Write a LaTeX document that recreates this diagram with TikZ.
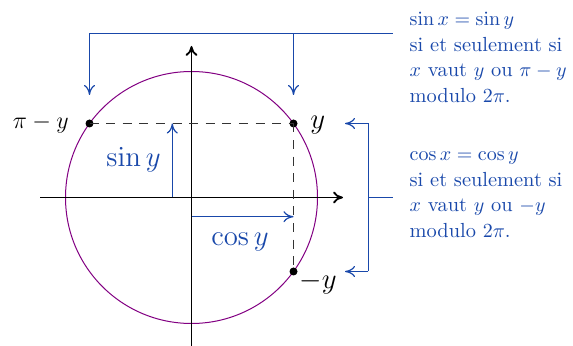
\documentclass[tikz,border=0pt]{standalone}
\usetikzlibrary{arrows.meta}
\definecolor{myblue}{RGB}{25,72,170}
\definecolor{mypurple}{RGB}{130,0,130}
\begin{document}
\begin{tikzpicture}[x=0.5pt,y=-0.5pt,
  axis/.style={line width=0.9pt,-{To[length=5pt,width=6pt]}},
  guide/.style={line width=0.6pt,dash pattern=on 4.5pt off 3.8pt,black!80},
  bl/.style={myblue,line width=0.6pt},
  blarrow/.style={bl,-{To[length=5pt,width=5.5pt]}},
  dot/.style={circle,fill=black,inner sep=0pt,minimum size=4pt},
  lab/.style={inner sep=0pt,font=\fontsize{13.5}{16}\selectfont},
  txt/.style={inner sep=0pt,align=left,text=myblue,font=\fontsize{10.2}{12.75}\selectfont}]
\useasboundingbox (0,0) rectangle (573,346);
% axes
\coordinate (O) at (191.5,197.5);
\coordinate (xl) at (40,197.5);
\coordinate (xr) at (343,197.5);
\coordinate (yb) at (191.5,346);
\coordinate (yt) at (191.5,46);
\draw[mypurple,line width=0.5pt] (O) circle[radius=63pt];
\draw[axis] (xl) -- (xr);
\draw[axis] (yb) -- (yt);
% points
\node[dot] (Y) at (293.5,123.5) {};
\node[dot] (PY) at (89.5,123.5) {};
\node[dot] (MY) at (293.5,271.5) {};
\draw[guide] (PY.center) -- (Y.center);
\draw[guide] (Y.center) -- (MY.center);
% labels
\node[lab,anchor=base east,font=\fontsize{12.8}{15}\selectfont] (lPY) at (69,128.3) {$\pi-y$};
\node[lab,anchor=base west] (lY) at (310,128.3) {$y$};
\node[lab,anchor=base west] (lMY) at (299,288.3) {$-y$};
% sin and cos arrows
\coordinate (s0) at (172.3,197.5);
\coordinate (s1) at (172.3,123.5);
\draw[blarrow] (s0) -- (s1);
\coordinate (c0) at (191.5,216.7);
\coordinate (c1) at (293.5,216.7);
\draw[blarrow] (c0) -- (c1);
\node[lab,text=myblue,anchor=base] (lsin) at (133.5,166.7) {$\sin y$};
\node[lab,text=myblue,anchor=base] (lcos) at (240,246) {$\cos y$};
% top bracket
\coordinate (t0) at (89.5,33.5);
\coordinate (t1) at (293.5,33.5);
\coordinate (t2) at (393,33.5);
\coordinate (ta) at (89.5,95);
\coordinate (tb) at (293.5,95);
\draw[bl] (t0) -- (t2);
\draw[blarrow] (t0) -- (ta);
\draw[blarrow] (t1) -- (tb);
% right bracket
\coordinate (r0) at (368.3,123.5);
\coordinate (r1) at (368.3,271.5);
\coordinate (rm) at (368.3,197.5);
\coordinate (rs) at (393,197.5);
\coordinate (ra) at (345,123.5);
\coordinate (rb) at (345,271.5);
\draw[bl] (r0) -- (r1);
\draw[bl] (rm) -- (rs);
\draw[blarrow] (r0) -- (ra);
\draw[blarrow] (r1) -- (rb);
% texts
\node[txt,anchor=north west] (T1) at (409.3,12) {$\sin x=\sin y$\\si et seulement si\\$x$ vaut $y$ ou $\pi-y$\\modulo $2\pi$.};
\node[txt,anchor=north west] (T2) at (409.3,151.7) {$\cos x=\cos y$\\si et seulement si\\$x$ vaut $y$ ou $-y$\\modulo $2\pi$.};
\end{tikzpicture}
\end{document}
